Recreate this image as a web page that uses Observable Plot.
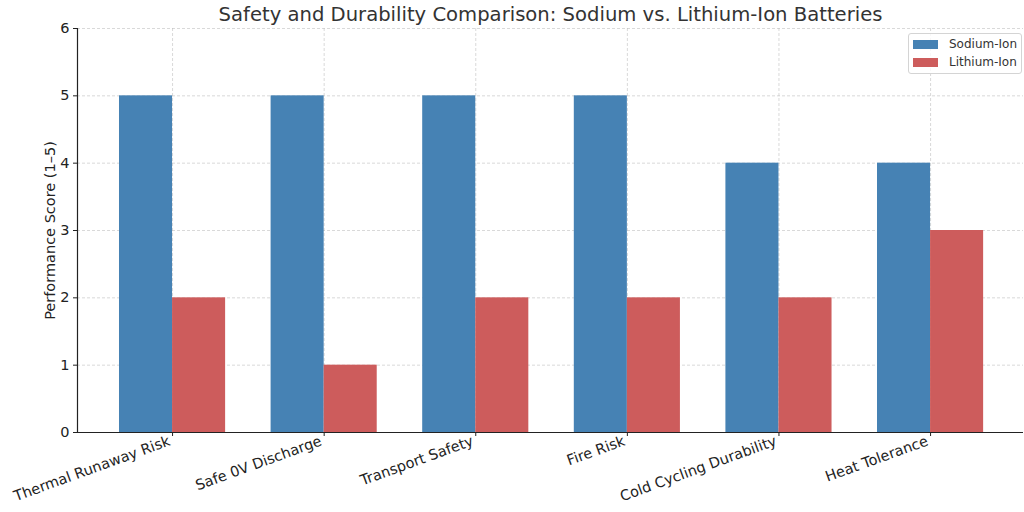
<!DOCTYPE html>
<html>
<head>
<meta charset="utf-8">
<script src="https://cdn.jsdelivr.net/npm/d3@7"></script>
<script src="https://cdn.jsdelivr.net/npm/@observablehq/plot@0.6"></script>
<style>
  html, body { margin: 0; padding: 0; background: #fff; }
  #wrap { position: relative; width: 1024px; height: 512px; font-family: "DejaVu Sans", sans-serif; }
  #legend { position: absolute; left: 908px; top: 33px; width: 114px; height: 41px; border: 1px solid #d4d4d4; border-radius: 3px; background: rgba(255,255,255,0.8); font-size: 12px; color: #333; box-sizing: border-box; }
  .item { position: absolute; left: 4px; height: 18px; display: flex; align-items: center; white-space: nowrap; }
  .sw { width: 25px; height: 9px; margin-right: 11px; flex: none; }
</style>
</head>
<body>
<div id="wrap"><div id="legend"></div></div>
<script>
const categories = ["Thermal Runaway Risk", "Safe 0V Discharge", "Transport Safety", "Fire Risk", "Cold Cycling Durability", "Heat Tolerance"];
const sodiumIon = [5, 5, 5, 5, 4, 4];
const lithiumIon = [2, 1, 2, 2, 2, 3];
const seriesNames = ["Sodium-Ion", "Lithium-Ion"];
const seriesColors = ["#4682b4", "#cd5c5c"];
const yTicks = [0, 1, 2, 3, 4, 5, 6];
const title = "Safety and Durability Comparison: Sodium vs. Lithium-Ion Batteries";
const yLabel = "Performance Score (1–5)";

const barWidth = 0.35;
const rows = [];
categories.forEach((c, i) => {
  rows.push({i, cat: c, series: seriesNames[0], value: sodiumIon[i], x1: i - barWidth, x2: i});
  rows.push({i, cat: c, series: seriesNames[1], value: lithiumIon[i], x1: i, x2: i + barWidth});
});
const idx = categories.map((c, i) => i);

const chart = Plot.plot({
  width: 1024,
  height: 512,
  marginLeft: 77,
  marginRight: 1,
  marginTop: 28,
  marginBottom: 80,
  style: {fontFamily: "DejaVu Sans, sans-serif", fontSize: "14.5px", color: "#222", background: "white"},
  x: {domain: [-0.627, 5.613]},
  y: {domain: [0, 6]},
  color: {domain: seriesNames, range: seriesColors},
  marks: [
    Plot.gridX(idx, {stroke: "#bbb", strokeOpacity: 0.7, strokeDasharray: "3,2", strokeWidth: 0.8}),
    Plot.gridY(yTicks, {stroke: "#bbb", strokeOpacity: 0.7, strokeDasharray: "3,2", strokeWidth: 0.8}),
    Plot.rectY(rows, {x1: "x1", x2: "x2", y: "value", fill: "series"}),
    Plot.ruleY([0], {stroke: "#222", strokeWidth: 1.2}),
    Plot.ruleX([-0.627], {stroke: "#222", strokeWidth: 1.2}),
    Plot.axisY(yTicks, {tickSize: 4, tickPadding: 4, fontSize: 14.5, label: null, stroke: "#222", tickFormat: d3.format("d")}),
    Plot.axisX(idx, {tickSize: 4, text: null, label: null, stroke: "#222"}),
    Plot.axisX(idx, {tickSize: 0, tickFormat: i => categories[i], tickRotate: -20, fontSize: 14.5, label: null, tickPadding: 6, dx: -3, dy: 2}),
    Plot.text([yLabel], {frameAnchor: "left", dx: -27, rotate: -90, fontSize: 14.5, fill: "#222", textAnchor: "middle"}),
    Plot.text([title], {frameAnchor: "top", dy: -14, fontSize: 19.6, fill: "#333", lineAnchor: "middle"})
  ]
});
document.getElementById("wrap").prepend(chart);

const legend = document.getElementById("legend");
seriesNames.forEach((s, k) => {
  const item = document.createElement("div");
  item.className = "item";
  item.style.top = (1 + k * 18) + "px";
  const sw = document.createElement("div");
  sw.className = "sw";
  sw.style.background = seriesColors[k];
  const t = document.createElement("span");
  t.textContent = s;
  item.appendChild(sw);
  item.appendChild(t);
  legend.appendChild(item);
});
</script>
</body>
</html>
